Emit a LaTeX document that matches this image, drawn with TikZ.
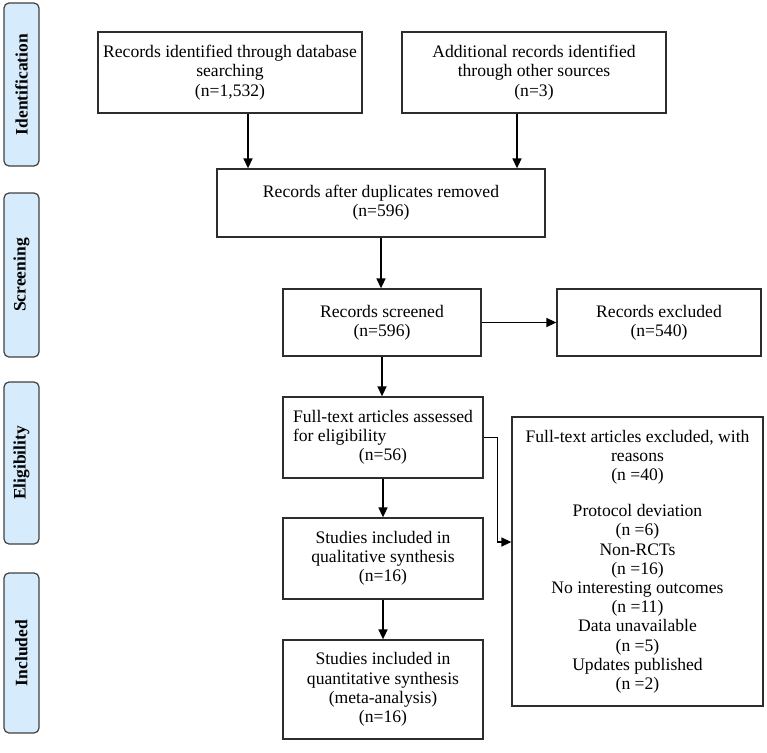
\documentclass[tikz,border=0pt]{standalone}
\usepackage{fontspec}
\setmainfont{Liberation Serif}
\usepackage{xcolor}
\usepackage{tikz}
\usetikzlibrary{calc,arrows.meta}

\definecolor{stagefill}{RGB}{214,236,253}
\definecolor{stageline}{RGB}{64,64,64}
\definecolor{boxline}{RGB}{45,45,45}

\begin{document}
\begin{tikzpicture}[x=1pt,y=-1pt,
	box/.style={draw=boxline, line width=1.3pt, align=center, inner sep=2pt,
		font=\fontsize{17.6}{19.2}\selectfont},
	stage/.style={draw=stageline, fill=stagefill, line width=1.2pt, rounded corners=5pt,
		minimum width=35pt, inner sep=0pt},
	arr/.style={line width=1.5pt, -{Triangle[length=10pt,width=9pt]}}]
	\useasboundingbox (0,0) rectangle (767,752);

	% Stage labels
	\node[stage, minimum height=163pt] (lblid) at (21.5,84.5) {};
	\node[stage, minimum height=164pt] (lblscr) at (21.5,275) {};
	\node[stage, minimum height=162pt] (lblelig) at (21.5,463) {};
	\node[stage, minimum height=160pt] (lblinc) at (21.5,653) {};
	\foreach \n/\t in {lblid/Identification, lblscr/Screening, lblelig/Eligibility, lblinc/Included} {
			\node[rotate=90, font=\bfseries\fontsize{17.5}{20}\selectfont] at (\n) {\t};
	}

	% Boxes
	\node[box, minimum width=264pt, minimum height=81pt] (bdb) at (230,72.5)
		{Records identified through database\\searching\\(n=1,532)};
	\node[box, minimum width=264pt, minimum height=81pt] (bother) at (534,72.5)
		{Additional records identified\\through other sources\\(n=3)};
	\node[box, minimum width=328pt, minimum height=68pt] (bdup) at (381,203)
		{Records after duplicates removed\\(n=596)};
	\node[box, minimum width=198pt, minimum height=67pt] (bscr) at (382,322.5)
		{Records screened\\(n=596)};
	\node[box, minimum width=204pt, minimum height=67pt] (bexc) at (659,322.5)
		{Records excluded\\(n=540)};
	\node[box, minimum width=200pt, minimum height=81pt] (bfull) at (383,437.5)
		{\begin{tabular}{@{}l@{}}Full-text articles assessed\\for eligibility\\\multicolumn{1}{@{}c@{}}{(n=56)}\end{tabular}};
	\node[box, minimum width=251pt, minimum height=289pt] (bfullexc) at (637.5,561.5)
		{Full-text articles excluded, with\\reasons\\(n =40)\\[17pt]Protocol deviation\\(n =6)\\Non-RCTs\\(n =16)\\No interesting outcomes\\(n =11)\\Data unavailable\\(n =5)\\Updates published\\(n =2)};
	\node[box, minimum width=200pt, minimum height=81pt] (bqual) at (383,558.5)
		{Studies included in\\qualitative synthesis\\(n=16)};
	\node[box, minimum width=200pt, minimum height=99pt] (bquant) at (383,689.5)
		{Studies included in\\quantitative synthesis\\(meta-analysis)\\(n=16)};

	% Arrows
	\draw[arr] ([xshift=18pt]bdb.south) -- ([xshift=18pt]bdb.south |- bdup.north);
	\draw[arr] ([xshift=-17pt]bother.south) -- ([xshift=-17pt]bother.south |- bdup.north);
	\draw[arr] (bdup.south) -- (bdup.south |- bscr.north);
	\draw[arr] (bscr.east) -- (bscr.east -| bexc.west);
	\draw[arr] (bscr.south) -- (bscr.south |- bfull.north);
	\draw[arr] (bfull.east) -- ++(14,0) |- ([yshift=19.5pt]bfullexc.west);
	\draw[arr] (bfull.south) -- (bqual.north);
	\draw[arr] (bqual.south) -- (bquant.north);
\end{tikzpicture}
\end{document}
